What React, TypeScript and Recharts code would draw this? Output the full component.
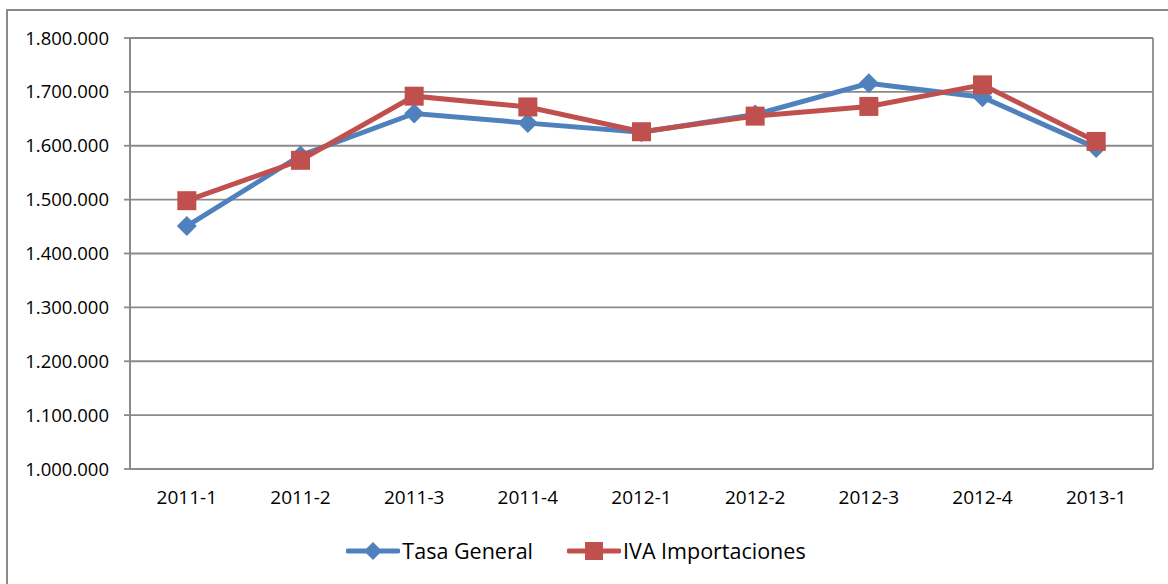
import React from "react";
import { LineChart, Line, XAxis, YAxis, CartesianGrid, Legend } from "recharts";

const categories = ["2011-1", "2011-2", "2011-3", "2011-4", "2012-1", "2012-2", "2012-3", "2012-4", "2013-1"];
const tasaGeneral = [1451000, 1582000, 1660000, 1642000, 1625000, 1658000, 1716000, 1690000, 1596000];
const ivaImportaciones = [1498000, 1573000, 1692000, 1672000, 1626000, 1655000, 1673000, 1713000, 1608000];
const yTicks = [1000000, 1100000, 1200000, 1300000, 1400000, 1500000, 1600000, 1700000, 1800000];

const data = categories.map((c, i) => ({
  pos: i + 0.5,
  label: c,
  tasa: tasaGeneral[i],
  iva: ivaImportaciones[i],
}));
const boundaryTicks = categories.map((_, i) => i).concat([categories.length]);
const centerTicks = categories.map((_, i) => i + 0.5);

const BLUE = "#4F81BD";
const RED = "#C0504D";
const GRID = "#8A8A8A";
const FONT = "'Open Sans', sans-serif";

const fmt = (v: number) => String(v).replace(/\B(?=(\d{3})+(?!\d))/g, ".");

const Diamond = (props: any) => {
  const { cx, cy } = props;
  if (cx == null || cy == null) return null;
  const r = 10;
  return <path d={`M${cx},${cy - r}L${cx + r},${cy}L${cx},${cy + r}L${cx - r},${cy}Z`} fill={BLUE} />;
};
const Square = (props: any) => {
  const { cx, cy } = props;
  if (cx == null || cy == null) return null;
  const s = 19;
  return <rect x={cx - s / 2} y={cy - s / 2} width={s} height={s} fill={RED} />;
};

const LegendContent = () => (
  <div style={{ display: "flex", justifyContent: "center", alignItems: "center", fontFamily: FONT, fontSize: 21.5, color: "#000" }}>
    <svg width={54} height={22}>
      <line x1={2} y1={11} x2={52} y2={11} stroke={BLUE} strokeWidth={5} strokeLinecap="round" />
      <path d="M27,2L36,11L27,20L18,11Z" fill={BLUE} />
    </svg>
    <span style={{ marginLeft: 2 }}>Tasa General</span>
    <svg width={54} height={22} style={{ marginLeft: 34 }}>
      <line x1={2} y1={11} x2={52} y2={11} stroke={RED} strokeWidth={5} strokeLinecap="round" />
      <rect x={18} y={2} width={18} height={18} fill={RED} />
    </svg>
    <span style={{ marginLeft: 2 }}>IVA Importaciones</span>
  </div>
);

export default function App() {
  return (
    <div style={{ position: "absolute", left: 0, top: 0, width: 1168, height: 584, overflow: "hidden", background: "#fff" }}>
      <div style={{ position: "absolute", left: 6, top: 9, width: 1200, height: 700, borderLeft: `2px solid ${GRID}`, borderTop: `2px solid ${GRID}` }} />
      <div style={{ position: "absolute", left: 0, top: 0 }}>
        <LineChart width={1168} height={584} data={data} margin={{ top: 38, right: 15, left: 0, bottom: 45 }}>
          <CartesianGrid xAxisId="grid" stroke={GRID} strokeWidth={1.8} />
          <XAxis
            xAxisId="grid"
            type="number"
            dataKey="pos"
            domain={[0, categories.length]}
            ticks={boundaryTicks}
            tick={false}
            height={0}
            tickSize={7}
            axisLine={{ stroke: GRID, strokeWidth: 1.8 }}
            tickLine={{ stroke: GRID, strokeWidth: 1.8 }}
          />
          <XAxis
            xAxisId="lab"
            type="number"
            dataKey="pos"
            domain={[0, categories.length]}
            ticks={centerTicks}
            tickFormatter={(v: number) => categories[Math.floor(v)]}
            axisLine={false}
            tickLine={false}
            height={40}
            tickMargin={16}
            tick={{ fill: "#000", fontSize: 19, fontFamily: FONT }}
            interval={0}
          />
          <YAxis
            type="number"
            domain={[1000000, 1800000]}
            ticks={yTicks}
            tickFormatter={fmt}
            width={130}
            tickSize={6}
            tickMargin={15}
            axisLine={{ stroke: GRID, strokeWidth: 1.8 }}
            tickLine={{ stroke: GRID, strokeWidth: 1.8 }}
            tick={{ fill: "#000", fontSize: 18.5, fontFamily: FONT }}
            interval={0}
          />
          <Line
            xAxisId="lab"
            dataKey="tasa"
            name="Tasa General"
            stroke={BLUE}
            strokeWidth={5}
            dot={<Diamond />}
            activeDot={false}
            isAnimationActive={false}
          />
          <Line
            xAxisId="lab"
            dataKey="iva"
            name="IVA Importaciones"
            stroke={RED}
            strokeWidth={5}
            dot={<Square />}
            activeDot={false}
            isAnimationActive={false}
          />
          <Legend
            verticalAlign="bottom"
            height={30}
            content={<LegendContent />}
            wrapperStyle={{ position: "absolute", top: 536, bottom: "auto", left: -8, width: 1168 }}
          />
        </LineChart>
      </div>
    </div>
  );
}
